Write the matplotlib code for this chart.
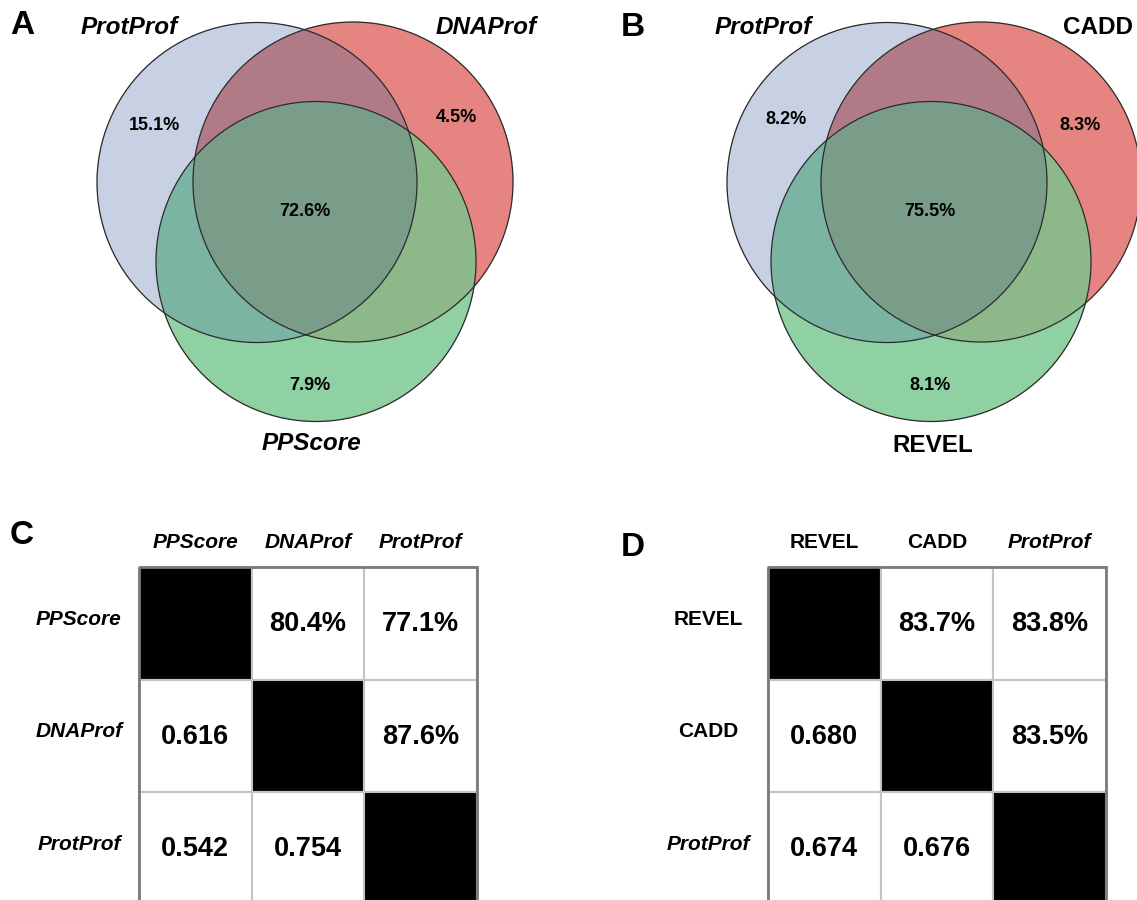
import numpy as np
import matplotlib
matplotlib.use("Agg")
import matplotlib.pyplot as plt
from matplotlib.patches import Circle, Rectangle
from matplotlib.colors import to_rgb

plt.rcParams['font.family'] = ['Liberation Sans', 'DejaVu Sans']

# ---------------- data ----------------
venn_a_sets = ["ProtProf", "DNAProf", "PPScore"]
venn_a_italic = [True, True, True]
venn_a_pcts = [15.1, 4.5, 7.9, 72.6]   # only set1, only set2, only set3, all three

venn_b_sets = ["ProtProf", "CADD", "REVEL"]
venn_b_italic = [True, False, False]
venn_b_pcts = [8.2, 8.3, 8.1, 75.5]

c_labels = ["PPScore", "DNAProf", "ProtProf"]
c_italic = [True, True, True]
c_overlap = {(0, 1): 80.4, (0, 2): 77.1, (1, 2): 87.6}
c_corr = {(1, 0): 0.616, (2, 0): 0.542, (2, 1): 0.754}

d_labels = ["REVEL", "CADD", "ProtProf"]
d_italic = [False, False, True]
d_overlap = {(0, 1): 83.7, (0, 2): 83.8, (1, 2): 83.5}
d_corr = {(1, 0): 0.680, (2, 0): 0.674, (2, 1): 0.676}

# ---------------- layout / style ----------------
W, H = 1137, 900
fig = plt.figure(figsize=(W / 100, H / 100), dpi=100)
ax = fig.add_axes([0, 0, 1, 1])
ax.set_xlim(0, W)
ax.set_ylim(H, 0)
ax.axis('off')

R = 160
venn_layouts = [
    dict(centers=[(257, 182.5), (353, 182), (316, 261.5)], sets=venn_a_sets, ital=venn_a_italic,
         pcts=venn_a_pcts,
         label_pos=[(129, 27), (486, 27), (311, 443)],
         pct_pos=[(155, 126), (456, 118), (310, 386), (305, 212)],
         letter="A", letter_pos=(22, 25)),
    dict(centers=[(887, 182.5), (981, 182), (931, 261.5)], sets=venn_b_sets, ital=venn_b_italic,
         pcts=venn_b_pcts,
         label_pos=[(763, 27), (1098, 27), (933, 445)],
         pct_pos=[(786, 120), (1080, 126), (930, 386), (930, 212)],
         letter="B", letter_pos=(633, 27)),
]

region_colors = {
    1: "#c9d2e4", 2: "#e58481", 4: "#90d2a5",
    3: "#b07a87", 5: "#7bb5a4", 6: "#8db88a", 7: "#7a9e8a",
}

# raster of Venn regions
step = 0.5
xs = np.arange(0, W, step) + step / 2
ys = np.arange(0, H / 2 + 20, step) + step / 2
X, Y = np.meshgrid(xs, ys)
img = np.zeros(X.shape + (4,))
for lay in venn_layouts:
    code = np.zeros(X.shape, dtype=int)
    for k, (cx, cy) in enumerate(lay["centers"]):
        code |= (((X - cx) ** 2 + (Y - cy) ** 2) <= R ** 2).astype(int) << k
    for c, col in region_colors.items():
        m = code == c
        img[m, :3] = to_rgb(col)
        img[m, 3] = 1.0
ax.imshow(img, extent=(0, W, ys[-1] + step / 2, 0), interpolation='antialiased', zorder=1)
ax.set_xlim(0, W)
ax.set_ylim(H, 0)
ax.set_aspect('auto')

for lay in venn_layouts:
    for (cx, cy) in lay["centers"]:
        ax.add_patch(Circle((cx, cy), R, fill=False, ec="#2b2b2b", lw=0.9, zorder=3))
    for name, it, (lx, ly) in zip(lay["sets"], lay["ital"], lay["label_pos"]):
        ax.text(lx, ly, name, fontsize=17.5, fontweight='bold',
                fontstyle='italic' if it else 'normal', ha='center', va='center', zorder=4)
    for p, (px, py) in zip(lay["pcts"], lay["pct_pos"]):
        ax.text(px, py, f"{p:.1f}%", fontsize=13, fontweight='bold', ha='center', va='center', zorder=4)
    ax.text(*lay["letter_pos"], lay["letter"], fontsize=24, fontweight='bold', ha='center', va='center')

# ---------------- matrices ----------------
cell = 112.5
tables = [
    dict(x0=139, y0=567, labels=c_labels, ital=c_italic, over=c_overlap, corr=c_corr,
         rowlab_x=79, letter="C", letter_pos=(22, 536)),
    dict(x0=768, y0=567, labels=d_labels, ital=d_italic, over=d_overlap, corr=d_corr,
         rowlab_x=708, letter="D", letter_pos=(633, 547)),
]
for t in tables:
    n = len(t["labels"])
    x0, y0 = t["x0"], t["y0"]
    for i in range(n):
        for j in range(n):
            fc = "black" if i == j else "white"
            ax.add_patch(Rectangle((x0 + j * cell, y0 + i * cell), cell, cell,
                                   fc=fc, ec="#c4c4c4", lw=1.5, zorder=2))
    ax.add_patch(Rectangle((x0, y0), n * cell, n * cell, fill=False, ec="#7a7a7a", lw=2, zorder=3))
    for k, (lab, it) in enumerate(zip(t["labels"], t["ital"])):
        st = 'italic' if it else 'normal'
        ax.text(x0 + (k + 0.5) * cell, y0 - 24, lab, fontsize=15, fontweight='bold',
                fontstyle=st, ha='center', va='center')
        ax.text(t["rowlab_x"], y0 + (k + 0.5) * cell - 4, lab, fontsize=15, fontweight='bold',
                fontstyle=st, ha='center', va='center')
    for (i, j), v in t["over"].items():
        ax.text(x0 + (j + 0.5) * cell, y0 + (i + 0.5) * cell + 1, f"{v:.1f}%", fontsize=19.5,
                fontweight='bold', ha='center', va='center', zorder=4)
    for (i, j), v in t["corr"].items():
        ax.text(x0 + (j + 0.5) * cell, y0 + (i + 0.5) * cell + 1, f"{v:.3f}", fontsize=19.5,
                fontweight='bold', ha='center', va='center', zorder=4)
    ax.text(*t["letter_pos"], t["letter"], fontsize=24, fontweight='bold', ha='center', va='center')

fig.savefig("out.png", dpi=100)
